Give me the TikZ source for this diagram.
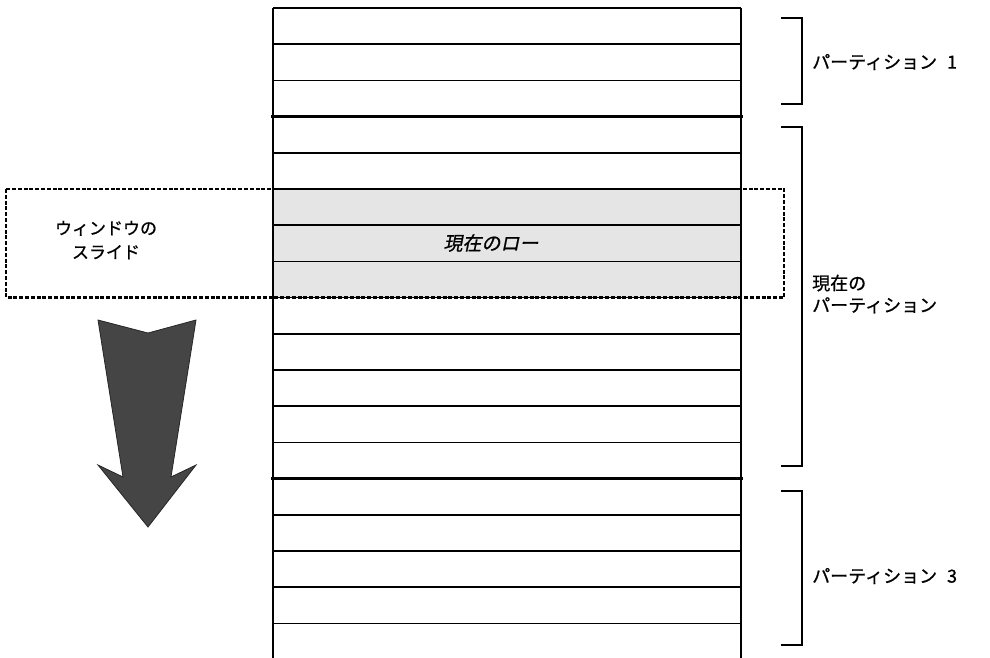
\documentclass[tikz,border=0pt]{standalone}
\usepackage{fontspec}
\setmainfont{Noto Sans CJK JP}[FakeBold=0.8]
\newfontfamily\jpit[FakeSlant=0.2,FakeBold=0.8]{Noto Sans CJK JP}
\begin{document}
\begin{tikzpicture}[x=1pt,y=-1pt,
  rowline/.style={line width=1.7pt,black},
  partline/.style={line width=3.4pt,black},
  winbox/.style={line width=2.6pt,dash pattern=on 4pt off 1.8pt},
  brk/.style={line width=1.6pt},
  lbl/.style={font=\fontsize{18}{22}\selectfont,inner sep=0pt,align=left,anchor=west},
  clbl/.style={font=\fontsize{17}{24}\selectfont,inner sep=0pt,align=center},
  arrowshape/.style={fill=black!73,draw=black!85,line width=0.8pt,line join=miter}]
\useasboundingbox (0,0) rectangle (990,657);
% current rows highlight
\fill[black!10] (273,189) rectangle (741,297.6);
% row lines
\foreach \k in {0,...,17}{
  \draw[rowline] (273,8+36.2*\k) -- (741,8+36.2*\k);
}
\draw[rowline] (273,8) -- (273,660);
\draw[rowline] (741,8) -- (741,660);
% partition boundaries
\draw[partline] (271,116.6) -- (743,116.6);
\draw[partline] (271,478.6) -- (743,478.6);
% sliding window
\draw[winbox] (6,189) rectangle (784,297.6);
% brackets
\draw[brk] (781,18) -- (802,18) -- (802,104) -- (781,104);
\draw[brk] (781,127) -- (802,127) -- (802,466) -- (781,466);
\draw[brk] (781,491) -- (802,491) -- (802,645) -- (781,645);
% labels
\node[lbl] (p1) at (812,62) {パーティション\hspace{0.55em}1};
\node[lbl] (p2) at (812,294) {現在の\\パーティション};
\node[lbl] (p3) at (812,576) {パーティション\hspace{0.55em}3};
\node[clbl] (win) at (106,240) {ウィンドウの\\スライド};
\node[clbl,font=\fontsize{19}{22}\selectfont\jpit] (cur) at (491,243) {現在のロー};
% arrow
\draw[arrowshape] (98,320) -- (148,333) -- (196,320) -- (171,477) -- (196,465)
  -- (148,527) -- (98,465) -- (123,477) -- cycle;
\end{tikzpicture}
\end{document}
